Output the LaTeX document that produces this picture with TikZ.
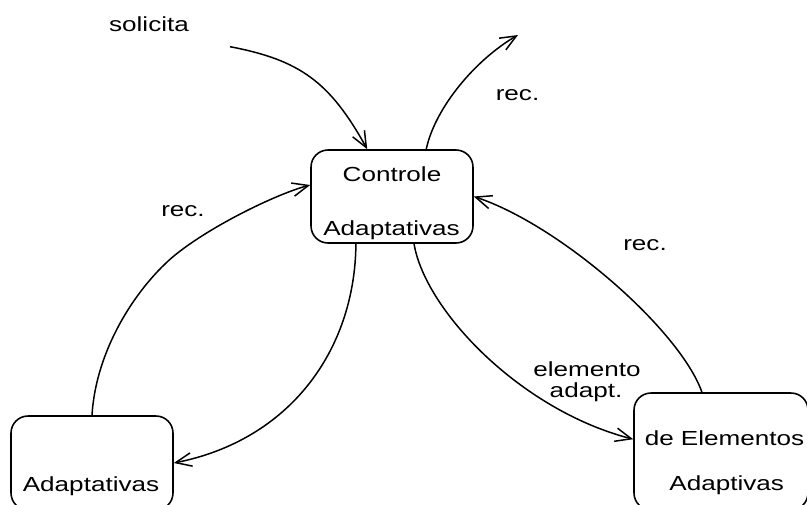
\documentclass[tikz,border=0pt]{standalone}
\usepackage{fontspec}
\setmainfont{Liberation Sans}
\usepackage{graphicx}
\usetikzlibrary{arrows.meta,calc}
% labels are set slightly widened
\newcommand{\wtxt}[1]{\scalebox{1.28}[1]{#1}}
\begin{document}
\begin{tikzpicture}[x=0.02cm,y=-0.02cm,
  statebox/.style={draw,line width=0.9pt,rounded corners=0.34cm,inner sep=0pt},
  txt/.style={anchor=base,inner sep=0pt,font=\fontsize{11.6}{13}\selectfont},
  conn/.style={draw,line width=0.85pt,-{Straight Barb[length=3.2mm,width=2.7mm]}}]
\useasboundingbox (0,0) rectangle (807,504);
\clip (0,0) rectangle (807,504);

% states
\node[statebox,minimum width=3.24cm,minimum height=1.86cm] (ctl) at (392,196.5) {};
\node[statebox,minimum width=3.24cm,minimum height=1.88cm] (adp) at (92,463) {};
\node[statebox,minimum width=3.48cm,minimum height=2.34cm] (ele) at (721,451.5) {};

% state texts
\node[txt] (ctl-t1) at (392,181) {\wtxt{Controle}};
\node[txt] (ctl-t2) at (391.5,235) {\wtxt{Adaptativas}};
\node[txt] (adp-t1) at (91,491.7) {\wtxt{Adaptativas}};
\node[txt] (ele-t1) at (724.5,445.7) {\wtxt{de Elementos}};
\node[txt] (ele-t2) at (726.7,490) {\wtxt{Adaptivas}};

% edge labels
\node[txt] (l-sol) at (149,31.7) {\wtxt{solicita}};
\node[txt] (l-rec1) at (517.5,100.7) {\wtxt{rec.}};
\node[txt] (l-rec2) at (183,216) {\wtxt{rec.}};
\node[txt] (l-rec3) at (645,250) {\wtxt{rec.}};
\node[txt] (l-ele1) at (587,376.7) {\wtxt{elemento}};
\node[txt] (l-ele2) at (586,397) {\wtxt{adapt.}};

% connector end points
\coordinate (solsrc) at (230,46.7);
\coordinate (recdst) at (518,35);
\coordinate (ctl-in) at ($(ctl.north west)+(57,0)$);
\coordinate (ctl-out) at ($(ctl.north west)+(116,0)$);
\coordinate (ctl-w) at ($(ctl.west)+(0,-11.5)$);
\coordinate (ctl-s1) at ($(ctl.south west)+(45.7,0)$);
\coordinate (ctl-s2) at ($(ctl.south west)+(103.8,0)$);
\coordinate (ele-n) at ($(ele.north west)+(68.7,0)$);
\coordinate (ele-w) at ($(ele.north west)+(0,47)$);

% transitions
\draw[conn] (solsrc) .. controls (300,60) and (330,82) .. (ctl-in);
\draw[conn] (ctl-out) .. controls (435,108) and (475,60) .. (recdst);
\draw[conn] (adp.north) .. controls (96,350) and (135,290) .. (171.5,258)
            .. controls (206.5,228) and (276,194) .. (ctl-w);
\draw[conn] (ctl-s1) .. controls (355,350) and (290,440) .. (adp.east);
\draw[conn] (ctl-s2) .. controls (425,310) and (520,410) .. (ele-w);
\draw[conn] (ele-n) .. controls (680,330) and (560,225) .. (ctl.east);
\end{tikzpicture}
\end{document}
